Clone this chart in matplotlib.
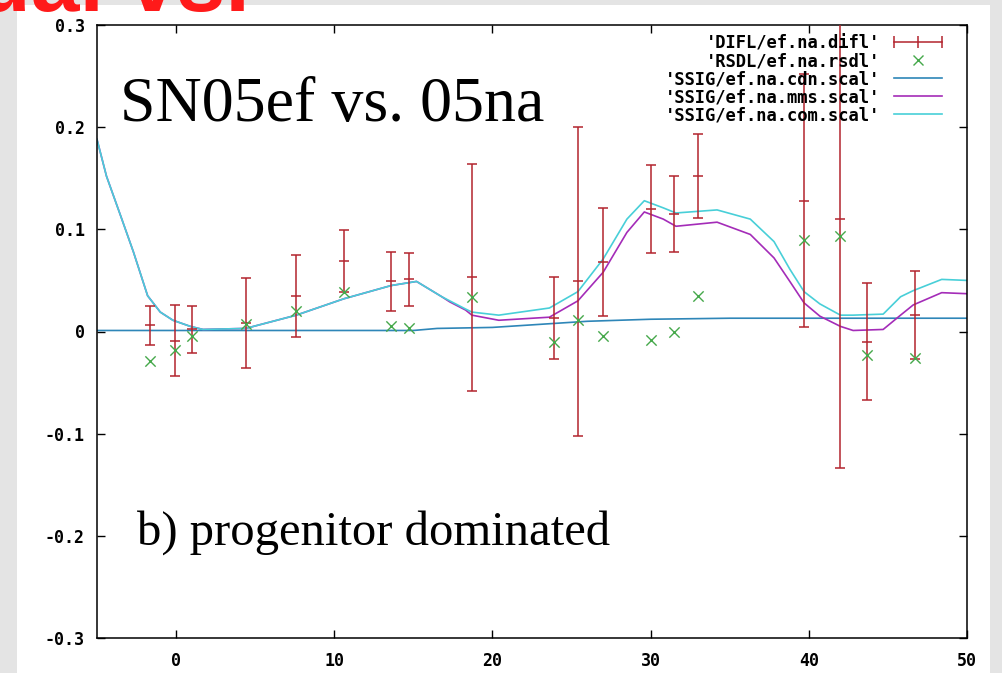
import matplotlib
matplotlib.use('Agg')
import matplotlib.pyplot as plt
from matplotlib.patches import Rectangle
from matplotlib.lines import Line2D
from matplotlib.legend_handler import HandlerLine2D

# error bar data (DIFL) and residuals (RSDL)
difl_x = [-1.65, -0.05, 1.0, 4.4, 7.6, 10.6, 13.6, 14.7, 18.7, 23.9, 25.4,
          27.0, 30.0, 31.5, 33.0, 39.7, 42.0, 43.7, 46.7]
difl_y = [0.006, -0.009, 0.002, 0.008, 0.035, 0.069, 0.049, 0.051, 0.053, 0.013,
          0.049, 0.068, 0.120, 0.115, 0.152, 0.128, 0.110, -0.010, 0.016]
difl_err = [0.019, 0.035, 0.023, 0.044, 0.040, 0.030, 0.029, 0.026, 0.111, 0.040,
            0.151, 0.053, 0.043, 0.037, 0.041, 0.124, 0.244, 0.057, 0.043]
rsdl_y = [-0.029, -0.018, -0.004, 0.007, 0.020, 0.039, 0.005, 0.003, 0.034, -0.010,
          0.011, -0.004, -0.008, 0.000, 0.035, 0.090, 0.093, -0.023, -0.026]

# model curves
sig_x = [-5.0, -4.4, -3.5, -2.7, -1.8, -1.0, -0.2, 0.9, 1.7, 4.4, 7.6, 10.6, 13.6,
         15.2, 16.8, 17.3, 18.3, 18.7, 20.4, 23.6, 25.4, 27.0, 28.5, 29.6, 30.8,
         31.6, 34.2, 36.3, 37.8, 38.8, 39.7, 40.7, 42.0, 42.8, 44.7, 45.8, 46.6,
         48.4, 50.0]
mms_y = [0.188, 0.152, 0.113, 0.078, 0.035, 0.019, 0.011, 0.005, 0.002, 0.003, 0.016,
         0.032, 0.045, 0.049, 0.034, 0.029, 0.021, 0.016, 0.011, 0.014, 0.030, 0.058,
         0.097, 0.117, 0.110, 0.103, 0.107, 0.095, 0.072, 0.049, 0.028, 0.015, 0.005,
         0.001, 0.002, 0.016, 0.026, 0.038, 0.037]
com_y = [0.188, 0.152, 0.113, 0.078, 0.035, 0.019, 0.011, 0.005, 0.002, 0.003, 0.016,
         0.032, 0.045, 0.049, 0.034, 0.030, 0.022, 0.019, 0.016, 0.023, 0.039, 0.071,
         0.110, 0.128, 0.121, 0.116, 0.119, 0.110, 0.088, 0.061, 0.039, 0.027, 0.016,
         0.016, 0.017, 0.034, 0.040, 0.051, 0.050]
cdn_x = [-5.0, 15.0, 16.5, 20.0, 23.0, 26.0, 30.0, 35.0, 50.0]
cdn_y = [0.001, 0.001, 0.003, 0.004, 0.007, 0.010, 0.012, 0.013, 0.013]

xticks = [0, 10, 20, 30, 40, 50]
yticks = [-0.3, -0.2, -0.1, 0, 0.1, 0.2, 0.3]
ytick_labels = ['-0.3', '-0.2', '-0.1', '0', '0.1', '0.2', '0.3']
labels = ["'DIFL/ef.na.difl'", "'RSDL/ef.na.rsdl'", "'SSIG/ef.na.cdn.scal'",
          "'SSIG/ef.na.mms.scal'", "'SSIG/ef.na.com.scal'"]

W, H = 1002, 673
fig = plt.figure(figsize=(W / 100, H / 100), dpi=100, facecolor='#e4e4e4')
fig.add_artist(Rectangle((17 / W, 0), (990 - 17) / W, 1 - 5 / H,
                         transform=fig.transFigure, facecolor='white',
                         edgecolor='none', zorder=-5))

ax = fig.add_axes([97 / W, 1 - 638 / H, (967 - 97) / W, (638 - 25) / H])
ax.set_facecolor('white')

red = '#b3242e'
green = '#45a84a'
ax.errorbar(difl_x, difl_y, yerr=difl_err, fmt='_', color=red, ecolor=red,
            elinewidth=1.1, capsize=3.4, capthick=1.1, markersize=7, mew=1.1,
            zorder=3)
ax.scatter(difl_x, rsdl_y, marker='x', s=55, color=green, linewidths=1.0,
           zorder=4)
ax.plot(cdn_x, cdn_y, color='#2e86b8', lw=1.2, zorder=2)
ax.plot(sig_x, mms_y, color='#a42cb8', lw=1.2, zorder=2)
ax.plot(sig_x, com_y, color='#48cfd8', lw=1.2, zorder=2)

ax.set_xlim(-5, 50)
ax.set_ylim(-0.3, 0.3)
ax.set_xticks(xticks)
ax.set_xticklabels([str(t) for t in xticks])
ax.set_yticks(yticks)
ax.set_yticklabels(ytick_labels)
ax.tick_params(direction='in', length=6, width=1, top=True, right=True,
               labelsize=12)
ax.tick_params(axis='x', pad=10)
ax.tick_params(axis='y', pad=9)
for lab in ax.get_xticklabels() + ax.get_yticklabels():
    lab.set_family('DejaVu Sans Mono')
    lab.set_weight('bold')
for sp in ax.spines.values():
    sp.set_linewidth(1.1)

h_difl = Line2D([], [], color=red, lw=1.1, marker='|', markersize=8, mew=1.1)
h_rsdl = Line2D([], [], color=green, lw=0, marker='x', markersize=7, mew=1.0)
handles = [h_difl, h_rsdl,
           Line2D([], [], color='#2e86b8', lw=1.2),
           Line2D([], [], color='#a42cb8', lw=1.2),
           Line2D([], [], color='#48cfd8', lw=1.2)]
ax.legend(handles, labels, loc='upper right', markerfirst=False, frameon=False,
          numpoints=3, handlelength=3.4, handletextpad=0.5, labelspacing=0.0,
          borderpad=0, borderaxespad=0,
          handler_map={h_rsdl: HandlerLine2D(numpoints=1)},
          bbox_to_anchor=((947 - 97) / 870, 1 - 9 / 613),
          prop={'family': 'DejaVu Sans Mono', 'weight': 'bold', 'size': 12.3})

fig.text(120 / W, 1 - 121 / H, 'SN05ef vs. 05na', family='Liberation Serif',
         fontsize=46, va='baseline', ha='left')
fig.text(137 / W, 1 - 545 / H, 'b) progenitor dominated', family='Liberation Serif',
         fontsize=35, va='baseline', ha='left')
fig.text(250 / W, 1 - 11 / H, 'Residual vs.', family='Liberation Sans',
         weight='bold', fontsize=63, color='#ff1a1a', va='baseline', ha='right')

fig.savefig('out.png', dpi=100, facecolor=fig.get_facecolor())
